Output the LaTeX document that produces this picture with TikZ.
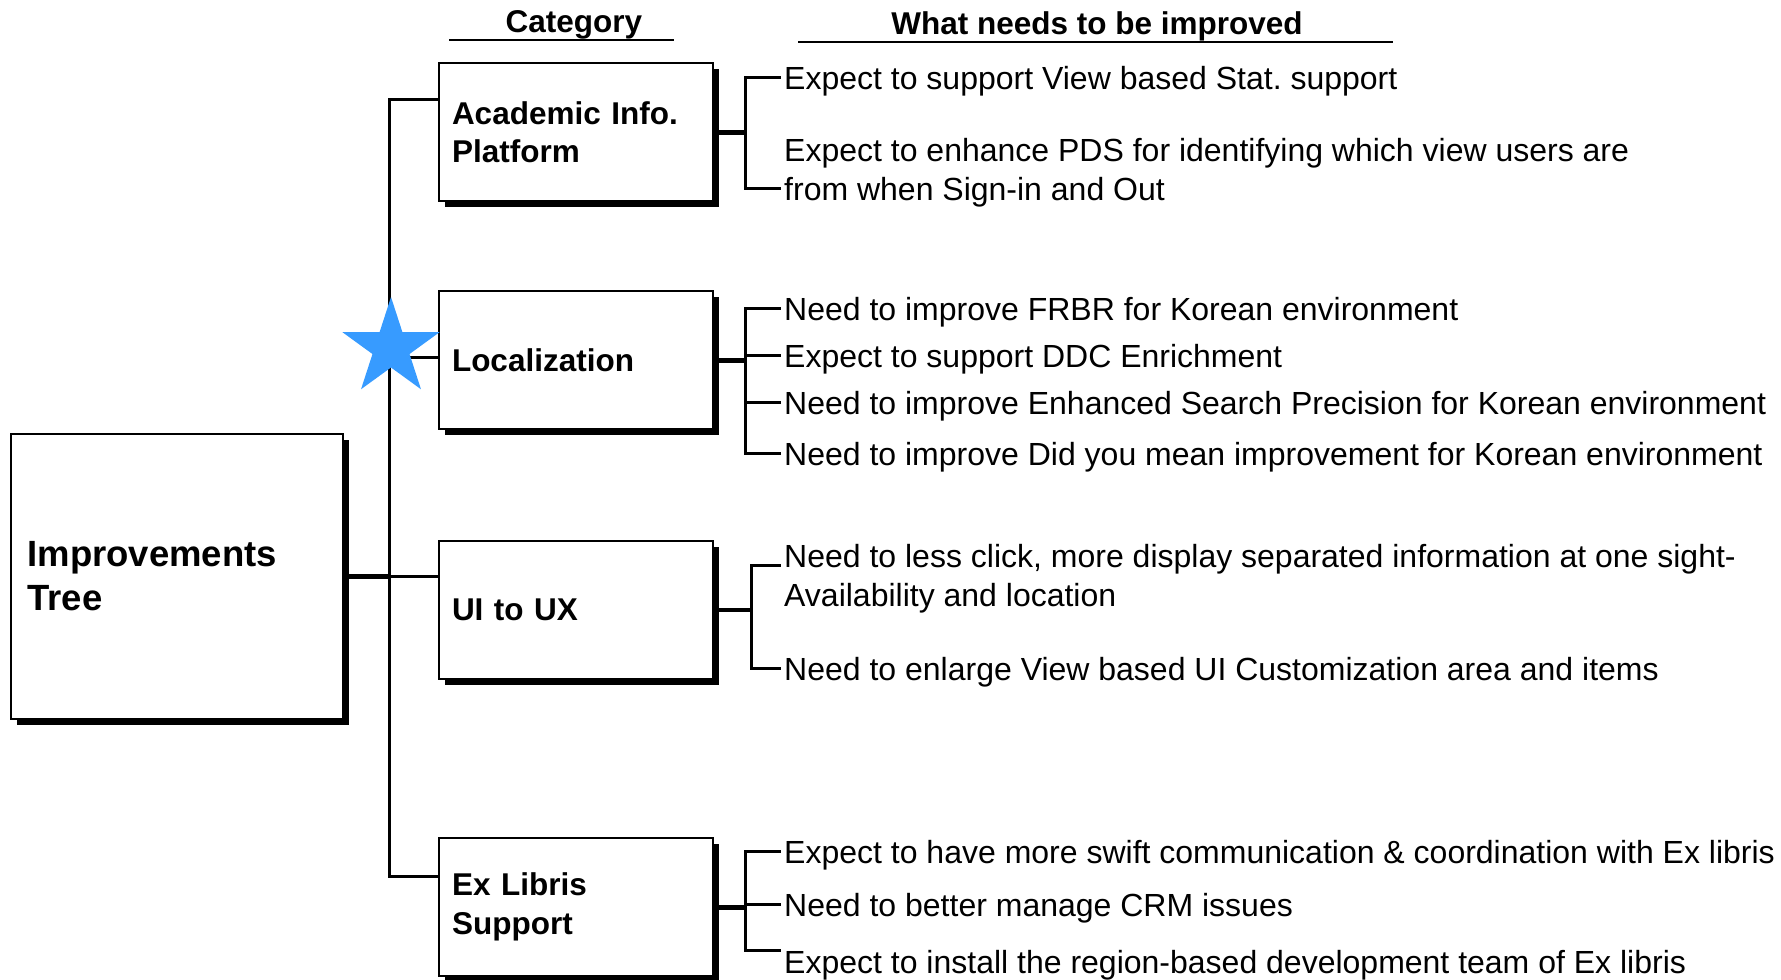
\documentclass[tikz,border=0pt]{standalone}
\usepackage{fontspec}
\setmainfont{Liberation Sans}
\usepackage{tikz}
\usetikzlibrary{shapes.geometric,shadows}
\definecolor{starblue}{RGB}{55,155,255}
\frenchspacing

\begin{document}
\begin{tikzpicture}[x=1pt,y=-1pt,
  catbox/.style={draw, line width=1.5pt, fill=white, align=left,
    minimum width=274pt, minimum height=138pt, text width=248pt, inner xsep=13pt,
    font=\bfseries\fontsize{31.5}{38.5}\selectfont,
    drop shadow={shadow xshift=6pt, shadow yshift=-6pt, fill=black, opacity=1}},
  item2/.style={anchor=west, align=left, inner xsep=5pt, inner ysep=0pt,
    font=\fontsize{32}{38.5}\selectfont},
  item/.style={item2, text height=28pt, text depth=4pt},
  head/.style={anchor=base, font=\bfseries\fontsize{31.5}{38}\selectfont},
  link/.style={line width=3pt, line cap=rect},
  stub/.style={line width=5pt}]
\useasboundingbox (0,0) rectangle (1781,980);

% headings
\node[head] (cat) at (574,32) {Category};
\node[head] (what) at (1097,34) {What needs to be improved};
\draw[line width=2.5pt] (449,40) -- (674,40);
\draw[line width=2.5pt] (798,42) -- (1393,42);

% root and categories
\node[catbox, minimum width=332pt, minimum height=285pt, text width=299pt,
  inner xsep=16.5pt, font=\bfseries\fontsize{36.5}{44}\selectfont]
  (root) at (177,576.5) {Improvements\\Tree};
\node[catbox] (aip) at (576,132) {Academic Info.\\Platform};
\node[catbox] (loc) at (576,360) {Localization};
\node[catbox] (uix) at (576,610) {UI to UX};
\node[catbox] (exl) at (576,907) {Ex Libris\\Support};

% trunk
\coordinate (top) at (389,99);
\coordinate (mid) at (389,357);
\coordinate (bot) at (389,876);
\draw[link] (aip.west |- top) -- (top) -- (bot) -- (exl.west |- bot);
\draw[link] (mid) -- (loc.west |- mid);
\draw[stub] (root.east) -- (root.east -| top);
\draw[link] (root.east -| top) -- (uix.west |- root.east);

% Academic Info. Platform
\coordinate (ab) at (745,0);
\node[item] (a1) at (779,77) {Expect to support View based Stat. support};
\node[item2] (a2) at (779,172.5) {Expect to enhance PDS for identifying which view users are\\from when Sign-in and Out};
\coordinate (a2t) at ([yshift=-16pt]a2.west);
\draw[stub] (aip.east) -- (aip.east -| ab);
\draw[link] (a1.west) -- (a1.west -| ab) -- (a2t -| ab) -- (a2t);

% Localization
\coordinate (lb) at (745,0);
\node[item] (l1) at (779,308) {Need to improve FRBR for Korean environment};
\node[item] (l2) at (779,355) {Expect to support DDC Enrichment};
\node[item] (l3) at (779,402) {Need to improve Enhanced Search Precision for Korean environment};
\node[item] (l4) at (779,453) {Need to improve Did you mean improvement for Korean environment};
\draw[stub] (loc.east) -- (loc.east -| lb);
\draw[link] (l1.west -| lb) -- (l4.west -| lb);
\foreach \n in {l1,l2,l3,l4}
  \draw[link] (\n.west) -- (\n.west -| lb);

% UI to UX
\coordinate (ub) at (751,0);
\node[item2] (u1) at (779,578.5) {Need to less click, more display separated information at one sight-\\Availability and location};
\node[item] (u2) at (779,668) {Need to enlarge View based UI Customization area and items};
\coordinate (u1t) at ([yshift=13pt]u1.west);
\draw[line width=4pt] (uix.east) -- (uix.east -| ub);
\draw[link] (u1t) -- (u1t -| ub) -- (u2.west -| ub) -- (u2.west);

% Ex Libris Support
\coordinate (eb) at (745,0);
\node[item] (e1) at (779,851) {Expect to have more swift communication \& coordination with Ex libris};
\node[item] (e2) at (779,904) {Need to better manage CRM issues};
\node[item] (e3) at (779,961) {Expect to install the region-based development team of Ex libris};
\coordinate (e3t) at ([yshift=11pt]e3.west);
\draw[stub] (exl.east) -- (exl.east -| eb);
\draw[link] (e1.west -| eb) -- (e3t -| eb) -- (e3t);
\foreach \n in {e1,e2}
  \draw[link] (\n.west) -- (\n.west -| eb);

% star mark
\node[star, star points=5, star point ratio=2.618, minimum size=102pt,
  inner sep=0pt, fill=starblue] (mark) at (391,348) {};
\end{tikzpicture}
\end{document}
